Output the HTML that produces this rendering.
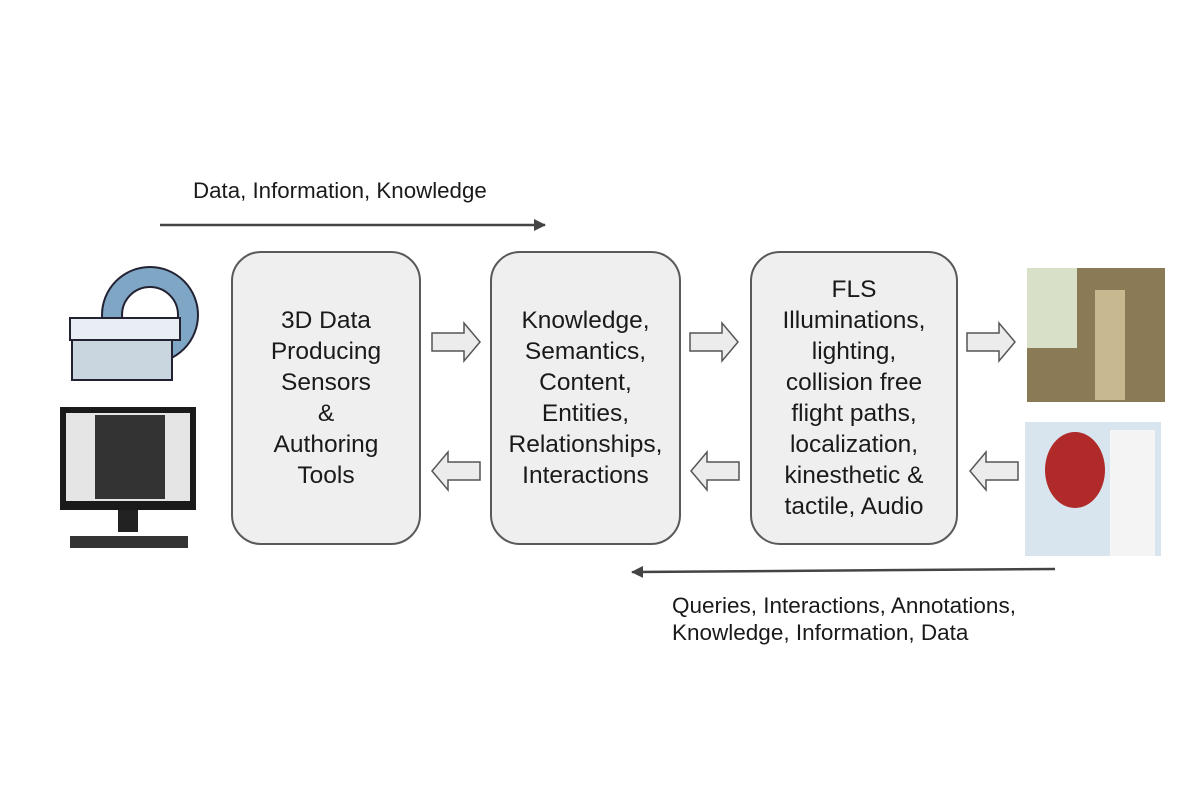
<!DOCTYPE html>
<html><head><style>
body{margin:0;width:1200px;height:800px;background:#fff;position:relative;overflow:hidden;font-family:"Liberation Sans",sans-serif;}
.box{position:absolute;top:251px;height:294px;background:#efefef;border:2px solid #595959;border-radius:30px;box-sizing:border-box;display:flex;align-items:center;justify-content:center;text-align:center;font-size:24.5px;line-height:31px;color:#1a1a1a;}
.t{position:absolute;font-size:22.3px;color:#1a1a1a;line-height:27px;}
</style></head><body>
<div class="t" style="left:193px;top:177px;">Data, Information, Knowledge</div>
<div class="t" style="left:672px;top:592px;font-size:22.5px;">Queries, Interactions, Annotations,<br>Knowledge, Information, Data</div>
<div class="box" style="left:231px;width:190px;">3D Data<br>Producing<br>Sensors<br>&amp;<br>Authoring<br>Tools</div>
<div class="box" style="left:490px;width:191px;">Knowledge,<br>Semantics,<br>Content,<br>Entities,<br>Relationships,<br>Interactions</div>
<div class="box" style="left:750px;width:208px;">FLS<br>Illuminations,<br>lighting,<br>collision free<br>flight paths,<br>localization,<br>kinesthetic &amp;<br>tactile, Audio</div>
<svg width="1200" height="800" style="position:absolute;left:0;top:0">
<defs><marker id="ah" markerWidth="12" markerHeight="12" refX="11" refY="6" orient="auto" markerUnits="userSpaceOnUse"><path d="M0,0 L12,6 L0,12 z" fill="#444"/></marker></defs>
<line x1="160" y1="225" x2="545" y2="225" stroke="#444" stroke-width="2.5" marker-end="url(#ah)"/>
<line x1="1055" y1="569" x2="632" y2="572" stroke="#444" stroke-width="2.5" marker-end="url(#ah)"/>
<g fill="#ececec" stroke="#555" stroke-width="1.5">
<path d="M432,333 h32 v-10 l16,19 l-16,19 v-10 h-32z"/>
<path d="M690,333 h32 v-10 l16,19 l-16,19 v-10 h-32z"/>
<path d="M967,333 h32 v-10 l16,19 l-16,19 v-10 h-32z"/>
<path d="M480,462 h-32 v-10 l-16,19 l16,19 v-10 h32z"/>
<path d="M739,462 h-32 v-10 l-16,19 l16,19 v-10 h32z"/>
<path d="M1018,462 h-32 v-10 l-16,19 l16,19 v-10 h32z"/>
</g>
<g stroke="#223" stroke-width="2">
<circle cx="150" cy="315" r="48" fill="#7fa6c4"/>
<circle cx="150" cy="315" r="28" fill="#fff"/>
<rect x="70" y="318" width="110" height="22" fill="#e8eef3"/>
<rect x="72" y="340" width="100" height="40" fill="#c9d6e0"/>
</g>
<rect x="60" y="407" width="136" height="103" fill="#1a1a1a"/>
<rect x="66" y="413" width="124" height="88" fill="#e5e5e5"/>
<rect x="95" y="415" width="70" height="84" fill="#333"/>
<rect x="118" y="510" width="20" height="22" fill="#222"/>
<rect x="70" y="536" width="118" height="12" fill="#333"/>
<rect x="1027" y="268" width="138" height="134" fill="#8a7a55"/>
<rect x="1027" y="268" width="50" height="80" fill="#d9e0c8"/>
<rect x="1095" y="290" width="30" height="110" fill="#c8b890"/>
<rect x="1025" y="422" width="136" height="134" fill="#d8e4ee"/>
<ellipse cx="1075" cy="470" rx="30" ry="38" fill="#b02a2a"/>
<rect x="1110" y="430" width="45" height="126" fill="#f4f4f4"/>
</svg>
</body></html>
